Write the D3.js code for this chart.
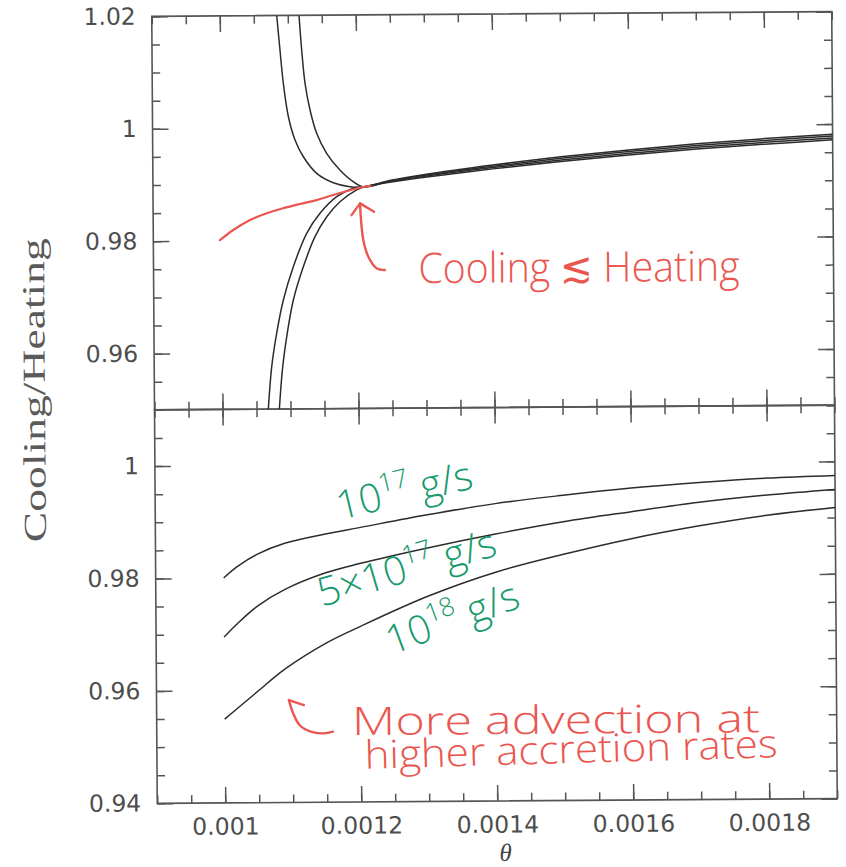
<!DOCTYPE html>
<html>
<head>
<meta charset="utf-8">
<script src="https://cdn.jsdelivr.net/npm/d3@7"></script>
<style>
  html, body { margin: 0; padding: 0; background: #fff; }
  svg { display: block; }
</style>
</head>
<body>
<svg id="chart" width="846" height="867"></svg>
<script>
// ---------- axis ticks ----------
const thetaMajor = [0.001, 0.0012, 0.0014, 0.0016, 0.0018];
const thetaLabels = ["0.001", "0.0012", "0.0014", "0.0016", "0.0018"];
const topMajor = [0.96, 0.98, 1.00, 1.02];
const topLabels = ["0.96", "0.98", "1", "1.02"];
const bottomMajor = [0.94, 0.96, 0.98, 1.00];
const bottomLabels = ["0.94", "0.96", "0.98", "1"];

// ---------- lower panel: cooling/heating vs theta for three accretion rates ----------
const rateTheta = [0.001, 0.00102, 0.00105, 0.00109, 0.00115, 0.0012, 0.0013, 0.0014, 0.0015, 0.0016, 0.0017, 0.0018, 0.0019];
const rate1e17 = [0.9800, 0.9820, 0.9842, 0.9861, 0.9877, 0.9888, 0.9910, 0.9929, 0.9943, 0.9955, 0.9964, 0.9971, 0.9975];
const rate5e17 = [0.9695, 0.9719, 0.9750, 0.9779, 0.9808, 0.9824, 0.9851, 0.9875, 0.9896, 0.9913, 0.9929, 0.9941, 0.9950];
const rate1e18 = [0.9549, 0.9569, 0.9599, 0.9638, 0.9683, 0.9712, 0.9765, 0.9807, 0.9838, 0.9865, 0.9887, 0.9905, 0.9918];

// ---------- upper panel: family of solutions through the critical point ----------
const upperOuterTheta = [0.0010837, 0.0010882, 0.0010928, 0.0010999, 0.0011094, 0.0011215, 0.0011409, 0.0011653, 0.0011897, 0.00121, 0.00125, 0.0013, 0.0014, 0.0015, 0.0016, 0.0017, 0.0018, 0.0019];
const upperOuterValue = [1.0201, 1.01386, 1.00794, 1.00198, 0.99783, 0.99484, 0.99187, 0.99018, 0.98945, 0.9894, 0.99055, 0.99155, 0.99315, 0.99452, 0.99566, 0.99668, 0.9975, 0.9982];

const upperInnerTheta = [0.0011165, 0.0011201, 0.0011247, 0.0011318, 0.0011413, 0.0011557, 0.0011751, 0.0011946, 0.00121, 0.00125, 0.0013, 0.0014, 0.0015, 0.0016, 0.0017, 0.0018, 0.0019];
const upperInnerValue = [1.0201, 1.01384, 1.0079, 1.00315, 0.99899, 0.99543, 0.99244, 0.99034, 0.9894, 0.99045, 0.99138, 0.99291, 0.99424, 0.99536, 0.99636, 0.99717, 0.99787];

const lowerOuterTheta = [0.0010673, 0.0010728, 0.0010804, 0.0010906, 0.0011056, 0.0011256, 0.0011454, 0.0011701, 0.0011946, 0.00121, 0.00125, 0.0013, 0.0014, 0.0015, 0.0016, 0.0017, 0.0018, 0.0019];
const lowerOuterValue = [0.9498, 0.95754, 0.96346, 0.96939, 0.97529, 0.98122, 0.98476, 0.98769, 0.98917, 0.9894, 0.99025, 0.99105, 0.99245, 0.99368, 0.99474, 0.99572, 0.9965, 0.9972];

const lowerInnerTheta = [0.0010835, 0.001089, 0.001096, 0.0011053, 0.0011203, 0.0011378, 0.0011553, 0.0011749, 0.0011996, 0.00121, 0.00125, 0.0013, 0.0014, 0.0015, 0.0016, 0.0017, 0.0018, 0.0019];
const lowerInnerValue = [0.9498, 0.95752, 0.96344, 0.96937, 0.97527, 0.98061, 0.98415, 0.9868, 0.98887, 0.9894, 0.99035, 0.99122, 0.99268, 0.99396, 0.99504, 0.99604, 0.99683, 0.99753];

// critical solution (highlighted)
const criticalTheta = [0.000998, 0.0010176, 0.0010424, 0.001067, 0.001091, 0.001116, 0.0011407, 0.0011651, 0.0011897, 0.001207, 0.00122];
const criticalValue = [0.9801, 0.9819, 0.98365, 0.98483, 0.9857, 0.98645, 0.98712, 0.988, 0.98883, 0.98935, 0.9896];

// ---------- hand annotations (theta, ratio) ----------
const coolingArrowShaft = [[0.0012403, 0.9746], [0.0012281, 0.97492], [0.001216, 0.97698], [0.0012088, 0.97996], [0.0012053, 0.9841], [0.0012044, 0.98648]];
const coolingArrowHead = [[0.0011917, 0.9844], [0.0012044, 0.98648], [0.0012249, 0.98497]];
const coolingText = { start: [0.0012894, 0.97223], end: 0.0017618 };

const advectionArrowShaft = [[0.0011591, 0.95254], [0.0011459, 0.95225], [0.0011263, 0.95256], [0.00111, 0.95376], [0.0011006, 0.9559], [0.0010947, 0.95821]];
const advectionArrowHead = [[0.0011166, 0.9573], [0.0010947, 0.95821]];
const advectionLine1 = { start: [0.0011871, 0.95191], end: 0.0017871 };
const advectionLine2 = { start: [0.0012059, 0.9459], end: 0.0018132 };

const rateLabelPos = [
  { base: "10", sup: "17", tail: " g/s", at: [0.0011716, 0.99018], angle: -13 },
  { base: "5\u00d710", sup: "17", tail: " g/s", at: [0.0011443, 0.97472], angle: -16 },
  { base: "10", sup: "18", tail: " g/s", at: [0.0012468, 0.96609], angle: -20 }
];

// ---------- layout ----------
const pL = 154.5, pR = 834.5, pT = 14, pM = 407.5, pB = 801;
const ink = "#2c2c2c", axisInk = "#555", labelInk = "#4d4d4d";
const red = "#ea5650", green = "#169a6c";
const handFont = "'Open Sans', 'Noto Sans', sans-serif";

const x = d3.scaleLinear().domain([0.0009, 0.0019]).range([pL, pR]);
const yTop = d3.scaleLinear().domain([0.95, 1.02]).range([pM, pT]);
const yBot = d3.scaleLinear().domain([0.94, 1.01]).range([pB, pM]);

const svg = d3.select("#chart");
const defs = svg.append("defs");
defs.append("clipPath").attr("id", "clipTop").append("rect")
  .attr("x", pL).attr("y", pT).attr("width", pR - pL).attr("height", pM - pT);
defs.append("clipPath").attr("id", "clipBot").append("rect")
  .attr("x", pL).attr("y", pM).attr("width", pR - pL).attr("height", pB - pM);

// the whole sheet sits very slightly tilted
const root = svg.append("g").attr("transform", `rotate(-0.4 ${(pL + pR) / 2} ${pM})`);

function styleAxis(g) {
  g.select(".domain").remove();
  g.selectAll(".tick line").attr("stroke", axisInk).attr("stroke-width", 1.5);
}

function panelAxes(yScale, y0, y1, major, labels, withX) {
  const g = root.append("g");
  const minorX = x.ticks(20);
  const minorY = yScale.ticks(14);
  // top edge
  g.append("g").attr("transform", `translate(0,${y0})`)
    .call(d3.axisTop(x).tickValues(minorX).tickSize(-8).tickFormat("")).call(styleAxis);
  g.append("g").attr("transform", `translate(0,${y0})`)
    .call(d3.axisTop(x).tickValues(thetaMajor).tickSize(-16).tickFormat("")).call(styleAxis);
  // bottom edge
  g.append("g").attr("transform", `translate(0,${y1})`)
    .call(d3.axisBottom(x).tickValues(minorX).tickSize(-8).tickFormat("")).call(styleAxis);
  const xb = g.append("g").attr("transform", `translate(0,${y1})`)
    .call(d3.axisBottom(x).tickValues(thetaMajor).tickSize(-16).tickPadding(15)
      .tickFormat((d, i) => withX ? thetaLabels[i] : "")).call(styleAxis);
  xb.selectAll("text").attr("font-family", "'DejaVu Sans', sans-serif")
    .attr("font-size", 23.5).attr("fill", labelInk);
  // left edge
  g.append("g").attr("transform", `translate(${pL},0)`)
    .call(d3.axisLeft(yScale).tickValues(minorY).tickSize(-8).tickFormat("")).call(styleAxis);
  const yl = g.append("g").attr("transform", `translate(${pL},0)`)
    .call(d3.axisLeft(yScale).tickValues(major).tickSize(-16).tickPadding(16)
      .tickFormat((d, i) => labels[i])).call(styleAxis);
  yl.selectAll("text").attr("font-family", "'DejaVu Sans', sans-serif")
    .attr("font-size", 23.5).attr("fill", labelInk);
  // right edge
  g.append("g").attr("transform", `translate(${pR},0)`)
    .call(d3.axisRight(yScale).tickValues(minorY).tickSize(-8).tickFormat("")).call(styleAxis);
  g.append("g").attr("transform", `translate(${pR},0)`)
    .call(d3.axisRight(yScale).tickValues(major).tickSize(-16).tickFormat("")).call(styleAxis);
  // frame
  g.append("rect").attr("x", pL).attr("y", y0).attr("width", pR - pL).attr("height", y1 - y0)
    .attr("fill", "none").attr("stroke", axisInk).attr("stroke-width", 1.6);
}

panelAxes(yTop, pT, pM, topMajor, topLabels, false);
panelAxes(yBot, pM, pB, bottomMajor, bottomLabels, true);

// ---------- curves ----------
const lineFor = yScale => d3.line().x(d => x(d[0])).y(d => yScale(d[1])).curve(d3.curveCatmullRom.alpha(0.5));

const topCurves = root.append("g").attr("clip-path", "url(#clipTop)");
[[upperOuterTheta, upperOuterValue], [upperInnerTheta, upperInnerValue],
 [lowerOuterTheta, lowerOuterValue], [lowerInnerTheta, lowerInnerValue]].forEach(([t, v]) => {
  topCurves.append("path").datum(d3.zip(t, v))
    .attr("d", lineFor(yTop)).attr("fill", "none").attr("stroke", ink).attr("stroke-width", 1.5);
});
topCurves.append("path").datum(d3.zip(criticalTheta, criticalValue))
  .attr("d", lineFor(yTop)).attr("fill", "none").attr("stroke", red)
  .attr("stroke-width", 2.2).attr("stroke-linecap", "round");

const botCurves = root.append("g").attr("clip-path", "url(#clipBot)");
[rate1e17, rate5e17, rate1e18].forEach(v => {
  botCurves.append("path").datum(d3.zip(rateTheta, v))
    .attr("d", lineFor(yBot)).attr("fill", "none").attr("stroke", ink).attr("stroke-width", 1.5);
});

// ---------- annotations ----------
const hand = d3.line().curve(d3.curveCatmullRom.alpha(0.5));
function arrow(shaft, head, yScale) {
  const pts = a => a.map(p => [x(p[0]), yScale(p[1])]);
  root.append("path").attr("d", hand(pts(shaft))).attr("fill", "none").attr("stroke", red)
    .attr("stroke-width", 2.4).attr("stroke-linecap", "round").attr("stroke-linejoin", "round");
  root.append("path").attr("d", d3.line()(pts(head))).attr("fill", "none").attr("stroke", red)
    .attr("stroke-width", 2.4).attr("stroke-linecap", "round").attr("stroke-linejoin", "round");
}
arrow(coolingArrowShaft, coolingArrowHead, yTop);
arrow(advectionArrowShaft, advectionArrowHead, yBot);

function handText(spec, yScale, str, size, rot) {
  const px = x(spec.start[0]), py = yScale(spec.start[1]);
  root.append("text").attr("x", px).attr("y", py)
    .attr("transform", rot ? `rotate(${rot} ${px} ${py})` : null)
    .attr("font-family", handFont).attr("font-weight", 300).attr("font-size", size)
    .attr("fill", red)
    .attr("textLength", x(spec.end) - px).attr("lengthAdjust", "spacingAndGlyphs")
    .text(str);
}
handText(coolingText, yTop, "Cooling \u2272 Heating", 42, 0);
handText(advectionLine1, yBot, "More advection at", 39, 0);
handText(advectionLine2, yBot, "higher accretion rates", 39, -1.2);

rateLabelPos.forEach(d => {
  const px = x(d.at[0]), py = yBot(d.at[1]);
  const t = root.append("text").attr("x", px).attr("y", py)
    .attr("transform", `rotate(${d.angle} ${px} ${py})`)
    .attr("font-family", handFont).attr("font-weight", 300).attr("fill", green);
  t.append("tspan").attr("font-size", 40).text(d.base);
  t.append("tspan").attr("font-size", 26).attr("dy", -17).text(d.sup);
  t.append("tspan").attr("font-size", 40).attr("dy", 17).text(d.tail);
});

// ---------- axis titles ----------
root.append("text")
  .attr("transform", `translate(45,387) rotate(-90)`)
  .attr("text-anchor", "middle")
  .attr("font-family", "'Liberation Serif', 'Times New Roman', serif")
  .attr("font-size", 32).attr("fill", "#5a5a5a")
  .attr("textLength", 304).attr("lengthAdjust", "spacingAndGlyphs")
  .text("Cooling/Heating");

root.append("text")
  .attr("x", (pL + pR) / 2 + 8).attr("y", 861)
  .attr("text-anchor", "middle")
  .attr("font-family", "'Liberation Serif', 'Times New Roman', serif")
  .attr("font-style", "italic").attr("font-size", 25).attr("fill", "#444")
  .text("\u03b8");
</script>
</body>
</html>
